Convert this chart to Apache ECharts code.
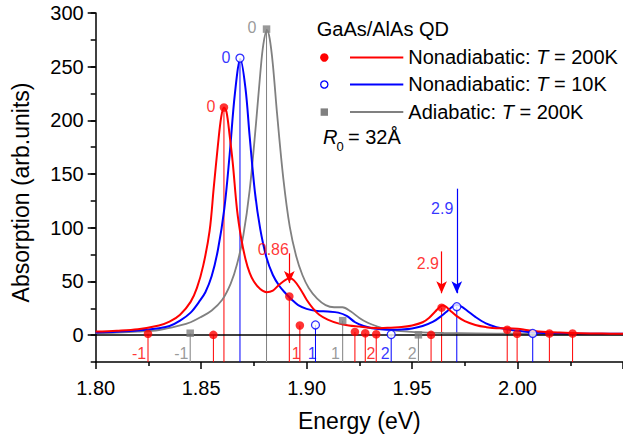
<!DOCTYPE html>
<html>
<head>
<meta charset="utf-8">
<script src="https://cdn.jsdelivr.net/npm/echarts@6/dist/echarts.min.js"></script>
<style>
html,body{margin:0;padding:0;background:#fff;}
#chart{width:623px;height:437px;}
</style>
</head>
<body>
<div id="chart"></div>
<script>
// ---------- data ----------
var X_MIN = 1.80, X_MAX = 2.05, Y_MIN = -25, Y_MAX = 300;
var yLabelValues = [0, 50, 100, 150, 200, 250, 300];

// Nonadiabatic T = 200K (red curve)
var redE = [1.800,1.810,1.820,1.830,1.835,1.840,1.845,1.848,1.851,1.854,1.856,1.858,1.8595,1.8608,1.862,1.8635,1.865,1.867,1.869,1.871,1.873,1.875,1.878,1.881,1.884,1.887,1.890,1.892,1.894,1.897,1.900,1.903,1.906,1.910,1.915,1.920,1.925,1.930,1.935,1.940,1.945,1.950,1.955,1.958,1.961,1.963,1.9645,1.966,1.968,1.971,1.975,1.980,1.985,1.990,1.995,2.000,2.005,2.010,2.020,2.030,2.040,2.050];
var redV = [3.4,4.2,5.6,9,12.5,19,31,44,65,97,138,178,203,212,208,186,160,117,90,71,58,50,43,40,41.5,47,51.5,53,51,43,33,25,19,14.5,11,9,8,7,6.5,7,7.5,9,12,16,22,26,27.5,26.5,23,18,13,9.5,7.5,6.5,6.5,6,4.5,3.5,2.5,1.8,1.5,1.2];

// Nonadiabatic T = 10K (blue curve)
var blueE = [1.800,1.810,1.820,1.830,1.835,1.840,1.845,1.849,1.852,1.855,1.858,1.861,1.8635,1.866,1.8686,1.871,1.873,1.8755,1.878,1.881,1.884,1.887,1.890,1.893,1.896,1.900,1.905,1.910,1.915,1.919,1.923,1.927,1.931,1.935,1.940,1.945,1.950,1.955,1.960,1.964,1.967,1.9695,1.9712,1.973,1.976,1.980,1.985,1.990,1.995,2.000,2.005,2.010,2.020,2.030,2.050];
var blueV = [2.5,3.2,4.3,6.5,8.5,13.5,21,31,40,55,80,118,168,225,257,230,185,133,99,72,56,46,39,33,28,24.5,22.5,22,21,18,12,8.5,6.5,5.5,5,5.2,6.2,8.5,12.5,18,23,27,28,27,23,17,11,7.5,5.5,4,3,2.3,1.7,1.4,1.2];

// Adiabatic T = 200K (gray curve)
var grayE = [1.800,1.810,1.820,1.830,1.840,1.845,1.850,1.855,1.860,1.864,1.867,1.870,1.873,1.876,1.878,1.8795,1.8812,1.8825,1.884,1.886,1.889,1.892,1.895,1.898,1.901,1.905,1.909,1.913,1.917,1.921,1.925,1.929,1.933,1.937,1.942,1.948,1.955,1.965,1.980,2.000,2.050];
var grayV = [1.8,2.3,3.2,4.8,9,12,17,23,33,48,66,93,135,197,243,271,284,276,252,206,145,101,74,56,44,34,28,26,26,22,16,11.5,8.5,6,4.3,3.2,2.5,2,1.6,1.3,1.0];

// transition stems (energy, strength)
var redStemE = [1.8248,1.8558,1.8608,1.8918,1.8968,1.9229,1.9278,1.9330,1.9590,1.9640,1.9951,1.9998,2.0151,2.0261];
var redStemV = [1.2,0.3,212,36,9,3,1.8,0.8,0.3,25.6,5,1.2,1.5,1.5];
var blueStemE = [1.8684,1.9042,1.9401,1.9712,2.0072];
var blueStemV = [258,9.5,0.6,26.5,1.6];
var grayStemE = [1.8448,1.8810,1.9171,1.9530];
var grayStemV = [1.8,285,13.5,0.3];

// peak annotations
var noteText  = ['-1','-1','1','1','1','2','2','2','0','0','0','0.86','2.9','2.9'];
var noteE     = [1.8206,1.8406,1.8951,1.9026,1.9137,1.9305,1.9373,1.9501,1.8547,1.8618,1.8741,1.8842,1.9575,1.9643];
var noteV     = [-16.9,-16.9,-16.9,-16.9,-16.9,-16.9,-16.9,-16.9,213,258.3,286.1,80.1,66.9,117.9];
var noteColor = ['red','gray','red','blue','gray','red','blue','gray','red','blue','gray','red','red','blue'];

// arrows: [energy, from, to]
var arrowE    = [1.8918,1.9640,1.9712];
var arrowFrom = [76.2,78,136.4];
var arrowTo   = [48.5,39,39];
var arrowColor= ['red','red','blue'];

// ---------- build ----------
var C = {red:'#ff0000', blue:'#0000ff', gray:'#808080'};
function zip(a,b){ return a.map(function(v,i){ return [v,b[i]]; }); }

function stemSeries(E, V, color){
  return {
    type:'custom', z:2, silent:true,
    data: zip(E,V),
    renderItem:function(params, api){
      var top = api.coord([api.value(0), api.value(1)]);
      var bot = api.coord([api.value(0), Y_MIN]);
      return {type:'line', shape:{x1:top[0],y1:top[1],x2:bot[0],y2:bot[1]},
              style:{stroke:color, lineWidth:1}};
    }
  };
}
function curveSeries(E, V, color, w, z){
  return {type:'line', z:z, data:zip(E,V), showSymbol:false, smooth:0.35, silent:true,
          lineStyle:{color:color, width:w}, clip:true};
}

var chart = echarts.init(document.getElementById('chart'), null, {renderer:'svg'});
var FONT = 'Liberation Sans, Arial, Helvetica, sans-serif';

var noteData = noteText.map(function(t,i){
  return {value:[noteE[i], noteV[i]], label:{formatter:t, color:C[noteColor[i]]}};
});

var arrowLines = arrowE.map(function(e,i){
  return [{coord:[e, arrowFrom[i]], lineStyle:{color:C[arrowColor[i]], width:1.2, type:'solid'}},
          {coord:[e, arrowTo[i]]}];
});

var graphics = [
  {type:'text', left:316.7, top:19, style:{text:'GaAs/AlAs QD', font:'20px '+FONT, fill:'#000'}},
  {type:'circle', shape:{cx:324.3, cy:57.5, r:4.2}, style:{fill:C.red}},
  {type:'line', shape:{x1:350, y1:57.5, x2:403.3, y2:57.5}, style:{stroke:C.red, lineWidth:2}},
  {type:'circle', shape:{cx:324.3, cy:84.5, r:3.6}, style:{fill:'#fff', stroke:C.blue, lineWidth:1.3}},
  {type:'line', shape:{x1:350, y1:84.5, x2:403.3, y2:84.5}, style:{stroke:C.blue, lineWidth:2}},
  {type:'rect', shape:{x:320.6, y:108.4, width:7.4, height:7.4}, style:{fill:C.gray}},
  {type:'line', shape:{x1:350, y1:112, x2:403.3, y2:112}, style:{stroke:C.gray, lineWidth:1.8}}
];
var legendRows = [['Nonadiabatic: ','200K',58.5],['Nonadiabatic: ','10K',85.5],['Adiabatic: ','200K',113]];
legendRows.forEach(function(r){
  graphics.push({type:'text', left:408.3, top:r[2]-11.5, style:{
    text:'{n|'+r[0]+'}{i|T}{n| = '+r[1]+'}',
    rich:{n:{font:'20px '+FONT, fill:'#000'}, i:{font:'italic 20px '+FONT, fill:'#000'}}
  }});
});
graphics.push({type:'text', left:323, top:126.5, style:{text:'R', font:'italic 20px '+FONT, fill:'#000'}});
graphics.push({type:'text', left:336.5, top:140, style:{text:'0', font:'13px '+FONT, fill:'#000'}});
graphics.push({type:'text', left:348, top:126.5, style:{text:'= 32Å', font:'20px '+FONT, fill:'#000'}});

var option = {
  animation:false,
  backgroundColor:'#fff',
  textStyle:{fontFamily:FONT},
  grid:{left:95.7, top:13, right:-2.7, bottom:73, containLabel:false},
  xAxis:{
    type:'value', min:X_MIN, max:X_MAX, interval:0.05,
    name:'Energy (eV)', nameLocation:'middle', nameGap:47,
    nameTextStyle:{fontSize:23, color:'#000', fontFamily:FONT},
    axisLine:{onZero:false, lineStyle:{color:'#000', width:1.5}},
    axisTick:{inside:false, length:7, lineStyle:{color:'#000', width:1.5}},
    minorTick:{show:true, splitNumber:2, length:4, lineStyle:{color:'#000', width:1.5}},
    splitLine:{show:false},
    axisLabel:{fontSize:20, color:'#000', margin:16, fontFamily:FONT, showMaxLabel:false,
               formatter:function(v){ return v.toFixed(2); }}
  },
  yAxis:[{
    type:'value', min:Y_MIN, max:Y_MAX, interval:25,
    name:'Absorption (arb.units)', nameLocation:'middle', nameGap:63,
    nameTextStyle:{fontSize:23, color:'#000', fontFamily:FONT, padding:[0,10,0,0]},
    axisLine:{show:true, lineStyle:{color:'#000', width:1.5}},
    axisTick:{show:true, inside:false, length:8, customValues:yLabelValues, lineStyle:{color:'#000', width:1.5}},
    splitLine:{show:false},
    axisLabel:{fontSize:20, color:'#000', margin:12, fontFamily:FONT, customValues:yLabelValues}
  },{
    type:'value', min:Y_MIN, max:Y_MAX, interval:25, position:'left', offset:0,
    axisLine:{show:false}, axisLabel:{show:false}, splitLine:{show:false},
    axisTick:{show:true, inside:false, length:5, lineStyle:{color:'#000', width:1.5}}
  }],
  graphic:graphics,
  series:[
    stemSeries(grayStemE, grayStemV, C.gray),
    stemSeries(blueStemE, blueStemV, C.blue),
    stemSeries(redStemE, redStemV, C.red),
    curveSeries(grayE, grayV, C.gray, 1.8, 3),
    curveSeries(blueE, blueV, C.blue, 2, 4),
    curveSeries(redE, redV, C.red, 2, 5),
    {type:'line', data:[], z:6, silent:true,
     markLine:{silent:true, symbol:['none','none'], label:{show:false},
       lineStyle:{color:'#000', width:1.5, type:'solid'}, data:[{yAxis:0}]}},
    {type:'line', data:[], z:7, silent:true,
     markLine:{silent:true, symbol:['none','arrow'], symbolSize:[8,12], label:{show:false}, data:arrowLines}},
    {type:'scatter', z:8, silent:true, data:zip(grayStemE, grayStemV), symbol:'rect', symbolSize:7.5,
     itemStyle:{color:C.gray}},
    {type:'scatter', z:9, silent:true, data:zip(redStemE, redStemV), symbol:'circle', symbolSize:8.5,
     itemStyle:{color:C.red}},
    {type:'scatter', z:10, silent:true, data:zip(blueStemE, blueStemV), symbol:'circle', symbolSize:8,
     itemStyle:{color:'#fff', borderColor:C.blue, borderWidth:1.3}},
    {type:'scatter', z:11, silent:true, data:noteData, symbolSize:0,
     label:{show:true, position:'inside', fontSize:16, fontFamily:FONT}}
  ]
};
chart.setOption(option);
</script>
</body>
</html>
